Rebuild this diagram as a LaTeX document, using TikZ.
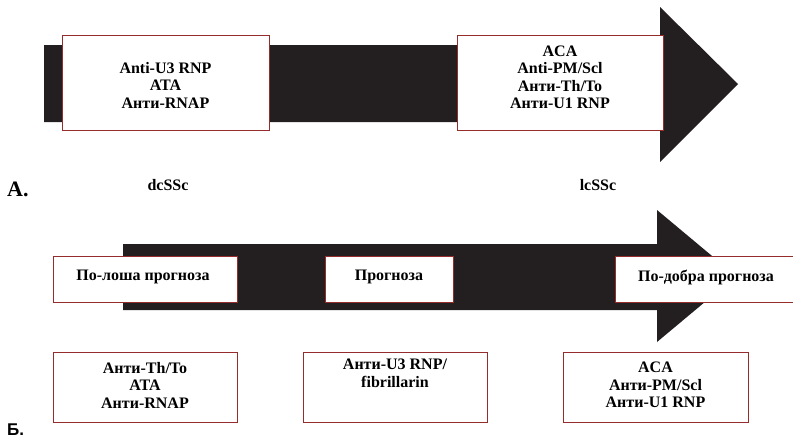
\documentclass[tikz,border=0pt]{standalone}
\usepackage{fontspec}
\setmainfont{Liberation Serif}
\setsansfont{Liberation Sans}
\definecolor{boxred}{RGB}{150,45,45}
\definecolor{arrowblack}{RGB}{35,31,32}
\tikzset{
  box/.style={draw=boxred, line width=0.8pt, fill=white, inner sep=0pt},
  txt/.style={align=center, font=\bfseries\fontsize{16}{17.5}\selectfont, inner sep=0pt},
  lbl/.style={font=\bfseries\fontsize{16}{18}\selectfont, inner sep=0pt},
}
\begin{document}
\begin{tikzpicture}[x=1pt,y=-1pt]
\useasboundingbox (0,0) rectangle (793,442);
% top arrow
\fill[arrowblack] (44,45) -- (660,45) -- (660,7) -- (738,84) -- (660,162) -- (660,122) -- (44,122) -- cycle;
\node[box, minimum width=207, minimum height=95] (a1) at (165.5,82.5) {};
\node[txt] (a1t) at (165.5,85) {Anti-U3 RNP\\ATA\\Анти-RNAP};
\node[box, minimum width=206, minimum height=95] (a2) at (560,82.5) {};
\node[txt] (a2t) at (560,77.5) {ACA\\Anti-PM/Scl\\Анти-Th/To\\Анти-U1 RNP};
\node[font=\bfseries\fontsize{22}{24}\selectfont, inner sep=0pt, anchor=base west] (labA) at (7,196) {A.};
\node[lbl, anchor=base] (dc) at (168,190) {dcSSc};
\node[lbl, anchor=base] (lc) at (598,190) {lcSSc};
% bottom arrow
\fill[arrowblack] (123,244) -- (657,244) -- (657,210) -- (736,276) -- (657,342) -- (657,310) -- (123,310) -- cycle;
\node[box, minimum width=184, minimum height=46] (p1) at (145,279) {};
\node[txt] (p1t) at (143,277) {По-лоша прогноза};
\node[box, minimum width=128, minimum height=46] (p2) at (389,279) {};
\node[txt] (p2t) at (389,277) {Прогноза};
\node[box, minimum width=180, minimum height=46] (p3) at (705,279) {};
\node[txt] (p3t) at (706,277) {По-добра прогноза};
\node[box, minimum width=184, minimum height=70] (q1) at (145,387) {};
\node[txt] (q1t) at (145,385) {Анти-Th/To\\ATA\\Анти-RNAP};
\node[box, minimum width=184, minimum height=70] (q2) at (395,387) {};
\node[txt, anchor=north] (q2t) at (395,359) {Анти-U3 RNP/\\fibrillarin};
\node[box, minimum width=185, minimum height=70] (q3) at (655.5,387) {};
\node[txt] (q3t) at (655.5,385) {ACA\\Анти-PM/Scl\\Анти-U1 RNP};
\node[font=\sffamily\bfseries\fontsize{17}{19}\selectfont, inner sep=0pt, anchor=base west] (labB) at (7,435) {Б.};
\end{tikzpicture}
\end{document}
